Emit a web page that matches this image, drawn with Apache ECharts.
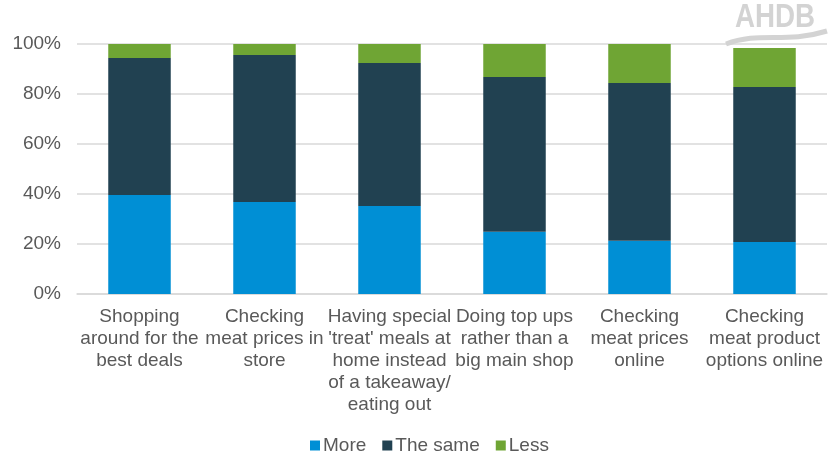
<!DOCTYPE html>
<html>
<head>
<meta charset="utf-8">
<script src="https://cdn.jsdelivr.net/npm/echarts@6/dist/echarts.min.js"></script>
<style>
html,body{margin:0;padding:0;background:#fff;}
#c{width:828px;height:465px;}
</style>
</head>
<body>
<div id="c"></div>
<script>
const categories = [
  "Shopping\naround for the\nbest deals",
  "Checking\nmeat prices in\nstore",
  "Having special\n'treat' meals at\nhome instead\nof a takeaway/\neating out",
  "Doing top ups\nrather than a\nbig main shop",
  "Checking\nmeat prices\nonline",
  "Checking\nmeat product\noptions online"
];
const seriesNames = ["More", "The same", "Less"];
const moreValues = [39.6, 36.8, 35.2, 24.9, 21.3, 20.8];
const sameValues = [54.8, 58.8, 57.2, 61.9, 63.1, 62.0];
const lessValues = [5.6, 4.4, 7.6, 13.2, 15.6, 15.6];
const yTicks = [0, 20, 40, 60, 80, 100];

const colors = ["#008FD5", "#214151", "#6FA534"];
const font = "'Liberation Sans', Arial, sans-serif";
const textColor = "#595959";

const chart = echarts.init(document.getElementById('c'), null, {renderer: 'canvas'});
const option = {
  backgroundColor: '#ffffff',
  animation: false,
  color: colors,
  textStyle: {fontFamily: font},
  grid: {left: 77, right: 1, top: 44, bottom: 171, containLabel: false},
  legend: {
    data: seriesNames,
    left: 305,
    top: 431,
    itemWidth: 10,
    itemHeight: 10,
    itemGap: 16,
    icon: 'rect',
    textStyle: {fontFamily: font, fontSize: 19, color: textColor, padding: [0, 0, 0, -2]}
  },
  xAxis: {
    type: 'category',
    data: categories,
    axisLine: {show: true, lineStyle: {color: '#d9d9d9', width: 1.5}},
    axisTick: {show: false},
    axisLabel: {
      interval: 0,
      margin: 12,
      fontFamily: font,
      fontSize: 19,
      lineHeight: 22,
      color: textColor,
      align: 'center'
    }
  },
  yAxis: {
    type: 'value',
    min: yTicks[0],
    max: yTicks[yTicks.length - 1],
    interval: yTicks[1] - yTicks[0],
    axisLine: {show: false},
    axisTick: {show: false},
    splitLine: {lineStyle: {color: '#d9d9d9', width: 1.5}},
    axisLabel: {
      margin: 16,
      fontFamily: font,
      fontSize: 19,
      color: textColor,
      formatter: v => v + '%'
    }
  },
  series: [
    {name: seriesNames[0], type: 'bar', stack: 'a', barWidth: '50%', data: moreValues},
    {name: seriesNames[1], type: 'bar', stack: 'a', barWidth: '50%', data: sameValues},
    {name: seriesNames[2], type: 'bar', stack: 'a', barWidth: '50%', data: lessValues}
  ],
  graphic: [
    {
      type: 'text', x: 735, y: 1, z: 10, scaleX: 0.84,
      style: {text: 'AHDB', font: "bold 33px 'Liberation Sans', Arial, sans-serif", fill: '#d3d3d3'}
    },
    {
      type: 'bezierCurve', z: 10,
      shape: {x1: 726, y1: 44, cpx1: 760, cpy1: 31, cpx2: 785, cpy2: 44, x2: 827, y2: 31},
      style: {stroke: '#d3d3d3', lineWidth: 5, fill: null}
    }
  ]
};
chart.setOption(option);
</script>
</body>
</html>
